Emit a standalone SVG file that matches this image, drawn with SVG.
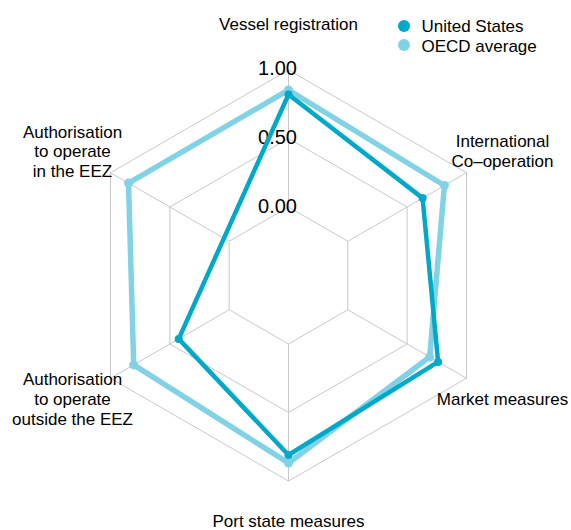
<svg xmlns="http://www.w3.org/2000/svg" width="571" height="530" viewBox="0 0 571 530">
<style>
.bg{fill:#ffffff}
.grid{fill:none;stroke:#c8c8c8;stroke-width:1}
.axis{stroke:#c8c8c8;stroke-width:1}
.lbl{font-family:"Liberation Sans",Arial,sans-serif;font-size:17px;fill:#000;text-anchor:middle}
.tick{font-family:"Liberation Sans",Arial,sans-serif;font-size:20px;fill:#000;text-anchor:middle}
.leg{font-family:"Liberation Sans",Arial,sans-serif;font-size:17px;fill:#000}
.oecd{fill:none;stroke:#82d2e5;stroke-width:5.5;stroke-linejoin:round}
.us{fill:none;stroke:#00a9c9;stroke-width:4.5;stroke-linejoin:round}
.oecdpt{fill:#82d2e5}
.uspt{fill:#00a9c9}
</style>
<rect class="bg" x="0" y="0" width="571" height="530"/>
<g id="grid">
<polygon class="grid" points="288.5,70 466.5,172.75 466.5,378.25 288.5,481 110.5,378.25 110.5,172.75"/>
<polygon class="grid" points="288.5,138.5 407.1,207 407.1,344 288.5,412.5 169.9,344 169.9,207"/>
<polygon class="grid" points="288.5,207 347.8,241.25 347.8,309.75 288.5,344 229.2,309.75 229.2,241.25"/>
<line class="axis" x1="288.5" y1="207" x2="288.5" y2="70"/>
<line class="axis" x1="347.8" y1="241.25" x2="466.5" y2="172.75"/>
<line class="axis" x1="347.8" y1="309.75" x2="466.5" y2="378.25"/>
<line class="axis" x1="288.5" y1="344" x2="288.5" y2="481"/>
<line class="axis" x1="229.2" y1="309.75" x2="110.5" y2="378.25"/>
<line class="axis" x1="229.2" y1="241.25" x2="110.5" y2="172.75"/>
</g>
<g id="ticks">
<text class="tick" x="277.5" y="75">1.00</text>
<text class="tick" x="277.5" y="143.5">0.50</text>
<text class="tick" x="277.5" y="212.5">0.00</text>
</g>
<g id="connectors">
<polygon id="oecd-line" class="oecd" points="288.5,90 444.4,185.5 429.7,357 288.5,463 133.7,364.9 128.5,183.1"/>
<polygon id="us-line" class="us" points="288.5,94.5 422.6,198.1 438.1,361.9 288.5,455 178.7,338.9"/>
</g>
<g id="oecd-points">
<circle class="oecdpt" cx="288.5" cy="90" r="4.5"/>
<circle class="oecdpt" cx="444.4" cy="185.5" r="4.5"/>
<circle class="oecdpt" cx="429.7" cy="357" r="4.5"/>
<circle class="oecdpt" cx="288.5" cy="463" r="4.5"/>
<circle class="oecdpt" cx="133.7" cy="364.9" r="4.5"/>
<circle class="oecdpt" cx="128.5" cy="183.1" r="4.5"/>
</g>
<g id="us-points">
<circle class="uspt" cx="288.5" cy="94.5" r="4"/>
<circle class="uspt" cx="422.6" cy="198.1" r="4"/>
<circle class="uspt" cx="438.1" cy="361.9" r="4"/>
<circle class="uspt" cx="288.5" cy="455" r="4"/>
<circle class="uspt" cx="178.7" cy="338.9" r="4"/>
</g>
<g id="node-vessel"><text class="lbl" x="288.5" y="29.5">Vessel registration</text></g>
<g id="node-intl"><text class="lbl" x="502.5" y="146.5">International</text><text class="lbl" x="502.5" y="166.5">Co–operation</text></g>
<g id="node-market"><text class="lbl" x="502.5" y="405">Market measures</text></g>
<g id="node-port"><text class="lbl" x="288.5" y="527">Port state measures</text></g>
<g id="node-outside"><text class="lbl" x="72.5" y="385">Authorisation</text><text class="lbl" x="72.5" y="405">to operate</text><text class="lbl" x="72.5" y="425">outside the EEZ</text></g>
<g id="node-inside"><text class="lbl" x="72.5" y="137.5">Authorisation</text><text class="lbl" x="72.5" y="157">to operate</text><text class="lbl" x="72.5" y="176.5">in the EEZ</text></g>
<g id="legend">
<circle class="uspt" cx="404" cy="26" r="6"/>
<text class="leg" x="421.5" y="32">United States</text>
<circle class="oecdpt" cx="404" cy="45" r="6"/>
<text class="leg" x="421.5" y="51.5">OECD average</text>
</g>
</svg>
